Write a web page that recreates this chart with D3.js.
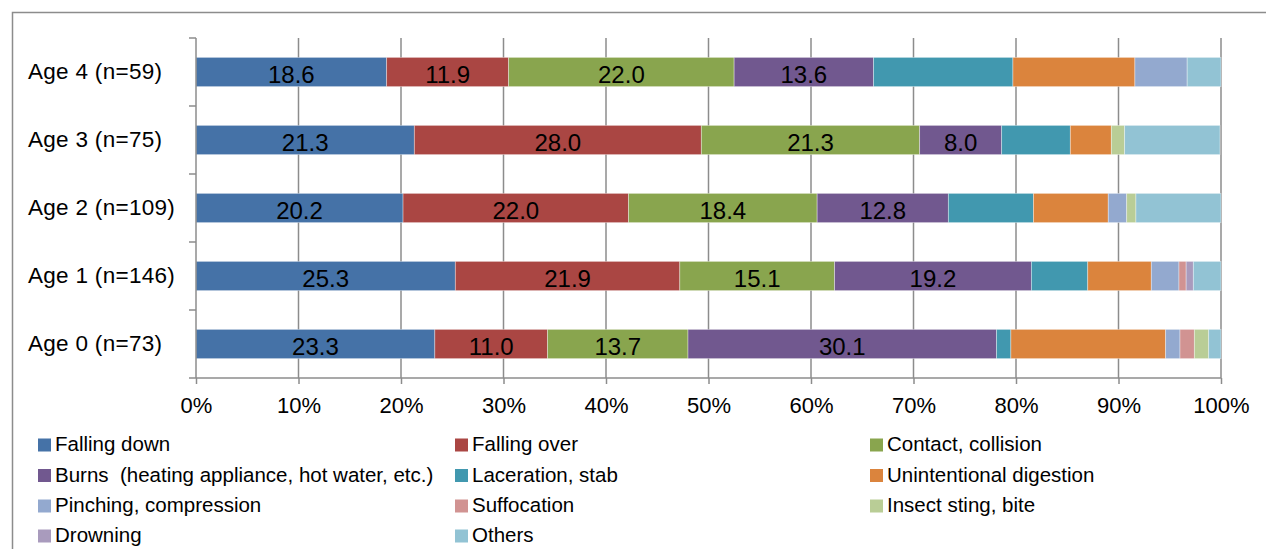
<!DOCTYPE html>
<html>
<head>
<meta charset="utf-8">
<script src="https://cdn.jsdelivr.net/npm/d3@7"></script>
<style>
  html, body { margin: 0; padding: 0; background: #fff; }
  svg { display: block; font-family: "Liberation Sans", Arial, sans-serif; }
</style>
</head>
<body>
<svg id="chart" width="1266" height="549"></svg>
<script>
// Injury types by age, share of cases (%)
const categories = ["Age 4 (n=59)", "Age 3 (n=75)", "Age 2 (n=109)", "Age 1 (n=146)", "Age 0 (n=73)"];
const seriesNames = [
  "Falling down", "Falling over", "Contact, collision",
  "Burns  (heating appliance, hot water, etc.)", "Laceration, stab", "Unintentional digestion",
  "Pinching, compression", "Suffocation", "Insect sting, bite",
  "Drowning", "Others"
];
const seriesColors = ["#4572A7", "#AA4643", "#89A54E", "#71588F", "#4198AF", "#DB843D",
                      "#93A9CF", "#D19392", "#B9CD96", "#A99BBD", "#92C3D4"];
const fallingDown   = [18.6, 21.3, 20.2, 25.3, 23.3];
const fallingOver   = [11.9, 28.0, 22.0, 21.9, 11.0];
const contact       = [22.0, 21.3, 18.4, 15.1, 13.7];
const burns         = [13.6, 8.0, 12.8, 19.2, 30.1];
const laceration    = [13.6, 6.7, 8.3, 5.5, 1.4];
const digestion     = [11.9, 4.0, 7.3, 6.2, 15.1];
const pinching      = [5.1, 0, 1.8, 2.7, 1.4];
const suffocation   = [0, 0, 0, 0.7, 1.4];
const insect        = [0, 1.3, 0.9, 0, 1.4];
const drowning      = [0, 0, 0, 0.7, 0];
const others        = [3.4, 9.3, 8.3, 2.7, 1.4];
const xTicks = [0, 10, 20, 30, 40, 50, 60, 70, 80, 90, 100];
const labelledSeries = 4; // first four series carry value labels

const seriesValues = [fallingDown, fallingOver, contact, burns, laceration, digestion,
                      pinching, suffocation, insect, drowning, others];

const svg = d3.select("#chart");
const axisGrey = "#8c8c8c";

// outer chart frame
svg.append("rect")
  .attr("x", 12.5).attr("y", 12.5)
  .attr("width", 1300).attr("height", 600)
  .attr("fill", "none").attr("stroke", axisGrey).attr("stroke-width", 1.5);

const x = d3.scaleLinear().domain([0, 100]).range([196, 1221]);
const y = d3.scaleBand().domain(categories).range([38, 378]).paddingInner(0.57).paddingOuter(0.285);

// vertical gridlines
svg.append("g").selectAll("line").data(xTicks.slice(1)).join("line")
  .attr("x1", d => x(d)).attr("x2", d => x(d))
  .attr("y1", 38).attr("y2", 378)
  .attr("stroke", axisGrey).attr("stroke-width", 1.5);

// stacked rows
const rows = categories.map((c, i) => {
  let acc = 0;
  return seriesValues.map((vals, s) => {
    const v = vals[i];
    const seg = { cat: c, s, v, x0: acc, x1: acc + v };
    acc += v;
    return seg;
  });
});
const segs = rows.flat().filter(d => d.v > 0);

svg.append("g").selectAll("rect").data(segs).join("rect")
  .attr("x", d => x(d.x0))
  .attr("y", d => y(d.cat))
  .attr("width", d => Math.max(0, Math.min(x(d.x1), x(100)) - x(d.x0)))
  .attr("height", y.bandwidth())
  .attr("fill", d => seriesColors[d.s])
  .attr("stroke", "rgba(255,255,255,0.45)")
  .attr("stroke-width", 0.8);

svg.append("g").selectAll("text").data(segs.filter(d => d.s < labelledSeries)).join("text")
  .attr("x", d => (x(d.x0) + x(d.x1)) / 2)
  .attr("y", d => y(d.cat) + y.bandwidth() / 2)
  .attr("dy", "0.45em")
  .attr("text-anchor", "middle")
  .attr("font-size", 24)
  .attr("fill", "#000")
  .text(d => d.v.toFixed(1));

// x axis
const xAxis = svg.append("g").attr("transform", "translate(0,378)")
  .call(d3.axisBottom(x).tickValues(xTicks).tickFormat(d => d + "%").tickSize(6).tickPadding(13));
xAxis.select(".domain").attr("stroke", axisGrey).attr("stroke-width", 1.5)
  .attr("d", "M" + (x(0) - 7) + ",0H" + x(100));
xAxis.selectAll(".tick line").attr("stroke", axisGrey).attr("stroke-width", 1.5);
xAxis.selectAll(".tick text").attr("font-size", 22).attr("fill", "#000")
  .attr("font-family", "'Liberation Sans', Arial, sans-serif");

// y axis
const yAxis = svg.append("g").attr("transform", "translate(196,0)");
yAxis.append("line").attr("x1", 0).attr("x2", 0).attr("y1", 38).attr("y2", 378)
  .attr("stroke", axisGrey).attr("stroke-width", 1.5);
const bounds = [38].concat(categories.slice(0, 4).map(c => y(c) + y.bandwidth() + y.step() * y.paddingInner() / 2));
yAxis.selectAll("line.tk").data(bounds).join("line").attr("class", "tk")
  .attr("x1", -7).attr("x2", 0)
  .attr("y1", d => d).attr("y2", d => d)
  .attr("stroke", axisGrey).attr("stroke-width", 1.5);

// category labels, left-aligned in the margin
svg.append("g").selectAll("text").data(categories).join("text")
  .attr("x", 28)
  .attr("y", d => y(d) + y.bandwidth() / 2)
  .attr("dy", "0.29em")
  .attr("text-anchor", "start")
  .attr("font-size", 22.5)
  .attr("letter-spacing", 0.3)
  .attr("fill", "#000")
  .text(d => d);

// legend: three columns
const legend = svg.append("g");
const colX = [38, 455, 870];
const rowY = [445, 475.5, 506, 536];
const items = legend.selectAll("g").data(seriesNames).join("g")
  .attr("transform", (d, i) => `translate(${colX[i % 3]},${rowY[Math.floor(i / 3)]})`);
items.append("rect").attr("x", 0).attr("y", -6.5).attr("width", 13).attr("height", 13)
  .attr("fill", (d, i) => seriesColors[i]);
items.append("text").attr("x", 17).attr("y", 0).attr("dy", "0.3em")
  .attr("font-size", 20.5).attr("fill", "#000")
  .style("white-space", "pre")
  .text(d => d);
</script>
</body>
</html>
